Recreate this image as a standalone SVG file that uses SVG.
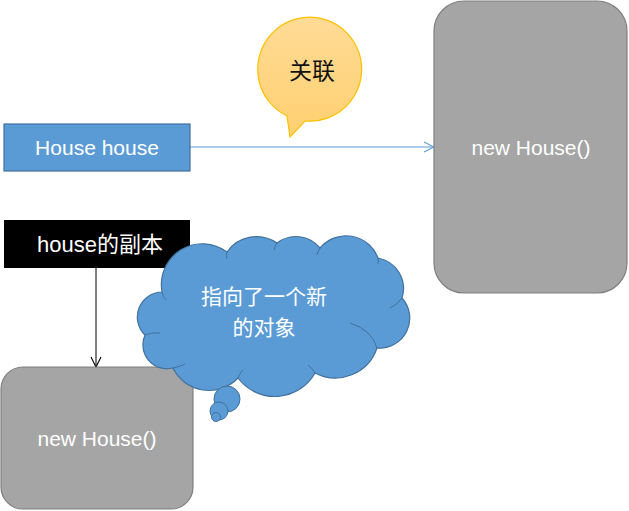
<svg xmlns="http://www.w3.org/2000/svg" width="629" height="511" viewBox="0 0 629 511">
<style>
.lat{font-family:"Liberation Sans","Noto Sans CJK SC",sans-serif;font-size:21px;fill:#fff;text-anchor:middle}
.cjk{font-family:"Noto Sans CJK SC",sans-serif;text-anchor:middle}
.gray{fill:#A5A5A5;stroke:#7F7F7F;stroke-width:1.2}
.blue{fill:#5B9BD5;stroke:#41719C;stroke-width:1.2}
</style>
<defs>
<linearGradient id="yg" x1="0" y1="0" x2="0" y2="1">
<stop offset="0" stop-color="#FFDB96"/>
<stop offset="1" stop-color="#FFD070"/>
</linearGradient>
<marker id="ab" markerWidth="12" markerHeight="12" refX="11" refY="6" orient="auto" markerUnits="userSpaceOnUse">
<path d="M1,1 L11,6 L1,11" fill="none" stroke="#5B9BD5" stroke-width="1.1"/>
</marker>
<marker id="ak" markerWidth="12" markerHeight="12" refX="11" refY="6" orient="auto" markerUnits="userSpaceOnUse">
<path d="M1,1 L11,6 L1,11" fill="none" stroke="#000" stroke-width="1.1"/>
</marker>
</defs>
<rect width="629" height="511" fill="#fff"/>

<g id="connectors">
<line x1="190" y1="147" x2="434" y2="147" stroke="#5B9BD5" stroke-width="1.2" marker-end="url(#ab)"/>
<line x1="96" y1="268" x2="96" y2="367" stroke="#000" stroke-width="1" marker-end="url(#ak)"/>
</g>

<g id="house-ref">
<rect x="4" y="124" width="186" height="47" class="blue"/>
<text x="97" y="155" class="lat">House house</text>
</g>

<g id="callout-guanlian">
<path d="M287,116 L290,137 L305,121 A52,52 0 1 0 287,116 Z" fill="url(#yg)" stroke="#FFC000" stroke-width="1.2"/>
<text x="312" y="79" class="cjk" font-size="23" fill="#111">关联</text>
</g>

<g id="house-object">
<rect x="434" y="1" width="193" height="292" rx="30" ry="30" class="gray"/>
<text x="531" y="155" class="lat">new House()</text>
</g>

<g id="house-copy">
<rect x="4" y="220" width="186" height="48" fill="#000"/>
<text x="100" y="252" font-size="22" fill="#fff" text-anchor="middle" font-family="Liberation Sans, Noto Sans CJK SC, sans-serif">house的副本</text>
</g>

<g id="new-object">
<rect x="1" y="367" width="192" height="142" rx="22" ry="22" class="gray"/>
<text x="97" y="446" class="lat">new House()</text>
</g>

<g id="cloud">
<path d="M145,335 A25,25 0 0 1 162,292 A41,41 0 0 1 227,252 A36,36 0 0 1 277,243 A31,31 0 0 1 320,248 A34,34 0 0 1 378,258 A31,31 0 0 1 402,298 A30,30 0 0 1 377,348 A44,44 0 0 1 315,373 A46,46 0 0 1 238,378 A40,40 0 0 1 173,368 A24,24 0 0 1 145,335 Z" fill="#5B9BD5" stroke="#41719C" stroke-width="1.2"/>
<g fill="none" stroke="#41719C" stroke-width="1">
<path d="M162,292 Q163,297 166,300"/>
<path d="M227,252 Q226,256 227,259"/>
<path d="M277,243 Q275,246 274,250"/>
<path d="M320,248 Q318,251 317,255"/>
<path d="M378,258 Q379,261 378,264"/>
<path d="M402,298 Q397,305 390,308"/>
<path d="M350,323 Q372,330 377,348"/>
<path d="M315,373 Q312,368 308,365"/>
<path d="M238,378 Q240,373 243,370"/>
<path d="M173,368 Q179,367 185,364"/>
<path d="M145,335 Q152,332 160,333"/>
</g>
<circle cx="227" cy="399" r="13" fill="#5B9BD5" stroke="#41719C" stroke-width="1"/>
<circle cx="219" cy="411" r="9" fill="#5B9BD5" stroke="#41719C" stroke-width="1"/>
<circle cx="216" cy="417" r="4.5" fill="#5B9BD5" stroke="#41719C" stroke-width="1"/>
<text x="264" y="304" class="cjk" font-size="21" fill="#fff">指向了一个新</text>
<text x="264" y="335" class="cjk" font-size="21" fill="#fff">的对象</text>
</g>
</svg>
